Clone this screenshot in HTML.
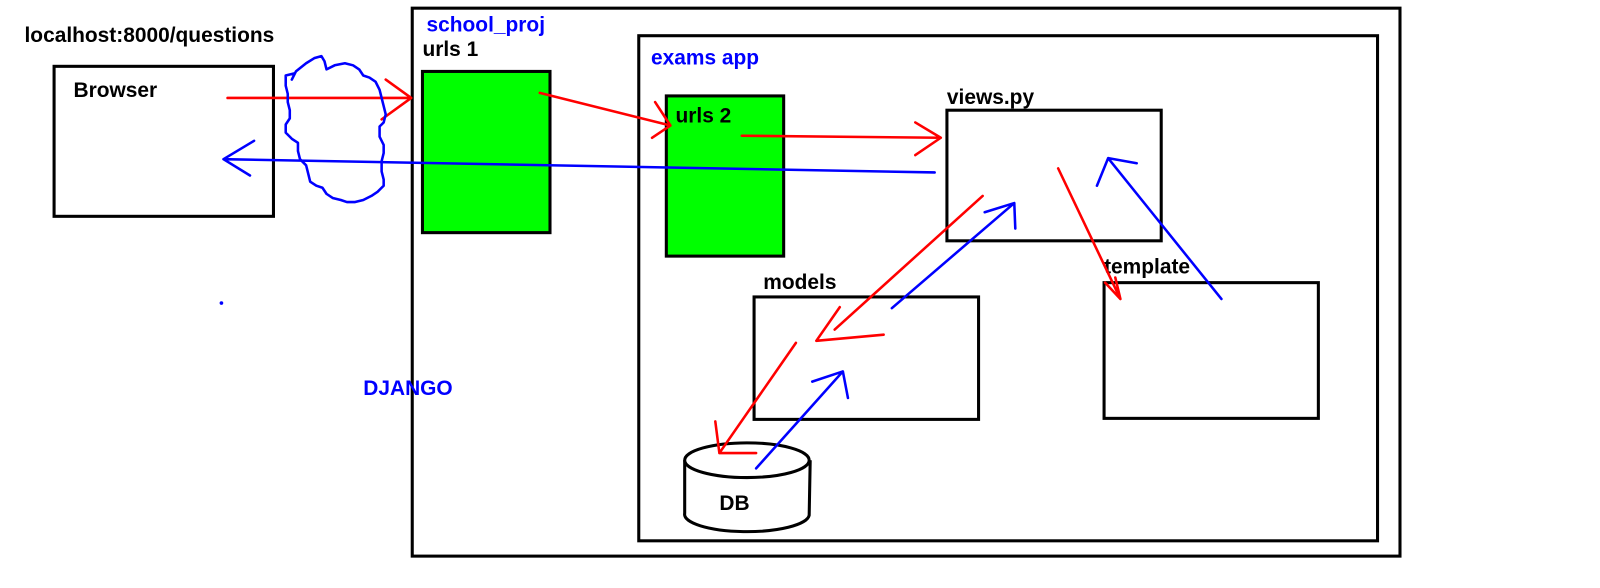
<!DOCTYPE html>
<html><head><meta charset="utf-8"><style>
html,body{margin:0;padding:0;background:#fff;width:1600px;height:588px;overflow:hidden}
svg{display:block}
text{font-family:"Liberation Sans",sans-serif;font-weight:bold;font-size:20.5px}
</style></head><body>
<svg width="1600" height="588" viewBox="0 0 1600 588" xmlns="http://www.w3.org/2000/svg">
<g transform="scale(1.0204)">
<g fill="none" stroke="#000" stroke-width="3">
<rect x="53" y="65" width="215" height="147"/>
<rect x="404" y="8" width="968" height="537"/>
<rect x="414" y="70" width="125" height="158" fill="#00ff00"/>
<rect x="626" y="35" width="724" height="495"/>
<rect x="653" y="94" width="115" height="157" fill="#00ff00"/>
<rect x="928" y="108" width="210" height="128"/>
<rect x="739" y="291" width="220" height="120"/>
<rect x="1082" y="277" width="210" height="133"/>
<path d="M671,451 L671,503 A61,17 0 0 0 793,505 L794,451" fill="#fff"/>
<ellipse cx="732" cy="451" rx="61" ry="17" fill="#fff"/>
</g>
<text x="24" y="41">localhost:8000/questions</text>
<text x="72" y="95">Browser</text>
<text x="418" y="31" fill="#0000ff">school_proj</text>
<text x="414" y="55">urls 1</text>
<text x="356" y="387" fill="#0000ff">DJANGO</text>
<text x="638" y="63" fill="#0000ff">exams app</text>
<text x="662" y="120">urls 2</text>
<text x="928" y="102">views.py</text>
<text x="748" y="283">models</text>
<text x="1082" y="268">template</text>
<text x="705" y="500">DB</text>
<g fill="none" stroke="#ff0000" stroke-width="2.5" stroke-linecap="round" stroke-linejoin="round">
<path d="M223,96 L403,96 M378,78 L403,96 L374,117"/>
<path d="M529,91 L657,123 M642,100 L657,123 L639,135"/>
<path d="M727,133 L922,135 M897,120 L922,135 L897,152"/>
<path d="M963,192 L818,323 M823,301 L800,334 L866,328"/>
<path d="M1037,165 L1098,293 M1083,277 L1098,293 L1093,272"/>
<path d="M780,336 L705,444 M701,413 L705,444 L741,444"/>
</g>
<g fill="none" stroke="#0000ff" stroke-width="2.5" stroke-linecap="round" stroke-linejoin="round">
<path d="M219,156 L916,169 M249,138 L219,156 L245,172"/>
<path d="M874,302 L994,199 M965,208 L994,199 L995,224"/>
<path d="M1197,293 L1086,155 M1075,182 L1086,155 L1114,160"/>
<path d="M741,459 L826,364 M796,374 L826,364 L831,390"/>
<path d="M286,78 L290,70 L300,62 L308,57 L315,55 L318,60 L320,68 L328,64 L338,62 L346,64 L352,68 L356,74 L362,76 L368,80 L372,88 L374,96 L376,104 L378,112 L376,120 L372,124 L372,134 L376,142 L376,150 L374,158 L374,168 L376,176 L376,182 L370,188 L364,192 L356,196 L348,198 L340,198 L334,196 L326,194 L320,190 L316,184 L310,182 L304,178 L302,170 L300,162 L294,156 L292,148 L292,140 L286,136 L280,130 L280,122 L284,116 L284,108 L282,100 L282,92 L280,84 L280,74 L288,72"/>
</g>
<circle cx="217" cy="297" r="1.8" fill="#0000ff"/>
</g>
</svg>
</body></html>
